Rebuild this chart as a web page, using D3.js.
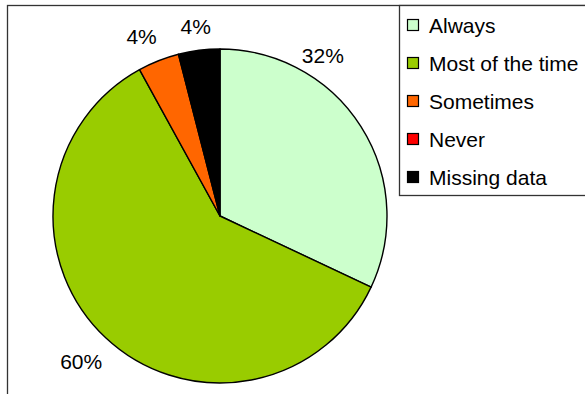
<!DOCTYPE html>
<html>
<head>
<meta charset="utf-8">
<script src="https://cdn.jsdelivr.net/npm/d3@7/dist/d3.min.js"></script>
<style>
  html, body { margin: 0; padding: 0; background: #fff; }
  svg { display: block; }
  text { font-family: "Liberation Sans", Arial, sans-serif; fill: #000; }
</style>
</head>
<body>
<svg id="chart" width="585" height="394"></svg>
<script>
// Response categories and their shares (percent)
const categories = ["Always", "Most of the time", "Sometimes", "Never", "Missing data"];
const values = [32, 60, 4, 0, 4];
const colors = ["#CCFFCC", "#99CC00", "#FF6600", "#FF0000", "#000000"];
// Small pixel nudges for the outside value labels (best-fit placement)
const labelNudge = [[-61, -57], [-6, 4], [-7, 1], [0, 0], [0, 3]];

const W = 585, H = 394;
const svg = d3.select("#chart");

// Plot area frame (extends past the right and bottom edges)
svg.append("rect")
  .attr("x", 7.5).attr("y", 5.5)
  .attr("width", 700).attr("height", 500)
  .attr("fill", "#fff").attr("stroke", "#333").attr("stroke-width", 1.3);

const cx = 220, cy = 216, R = 167;
const g = svg.append("g").attr("transform", `translate(${cx},${cy})`);

const rows = categories.map((c, i) => ({ cat: c, value: values[i], color: colors[i], nudge: labelNudge[i] }));

const pie = d3.pie().value(d => d.value).sort(null);
const arcs = pie(rows);
const arc = d3.arc().innerRadius(0).outerRadius(R);
const labelArc = d3.arc().innerRadius(R + 27).outerRadius(R + 27);

g.selectAll("path.slice")
  .data(arcs.filter(a => a.data.value > 0))
  .join("path")
  .attr("class", "slice")
  .attr("d", arc)
  .attr("fill", d => d.data.color)
  .attr("stroke", "#000")
  .attr("stroke-width", 1.4)
  .attr("stroke-linejoin", "round");

g.selectAll("text.lbl")
  .data(arcs.filter(a => a.data.value > 0))
  .join("text")
  .attr("class", "lbl")
  .attr("x", d => labelArc.centroid(d)[0] + d.data.nudge[0])
  .attr("y", d => labelArc.centroid(d)[1] + d.data.nudge[1])
  .attr("text-anchor", "middle")
  .attr("dominant-baseline", "central")
  .style("font-size", "21px")
  .text(d => d3.format(".0f")(d.data.value) + "%");

// Legend
const lg = svg.append("g");
lg.append("rect")
  .attr("x", 399.5).attr("y", 5.5)
  .attr("width", 300).attr("height", 190)
  .attr("fill", "#fff").attr("stroke", "#333").attr("stroke-width", 1.3);

const ly = d3.scalePoint().domain(categories).range([25, 177]);
const item = lg.selectAll("g.item").data(rows).join("g")
  .attr("class", "item")
  .attr("transform", d => `translate(0,${ly(d.cat)})`);
item.append("rect")
  .attr("x", 407.5).attr("y", -5.5)
  .attr("width", 11).attr("height", 11)
  .attr("fill", d => d.color)
  .attr("stroke", "#000").attr("stroke-width", 1.2);
item.append("text")
  .attr("x", 429).attr("y", 7.5)
  .style("font-size", "21px")
  .text(d => d.cat);
</script>
</body>
</html>
